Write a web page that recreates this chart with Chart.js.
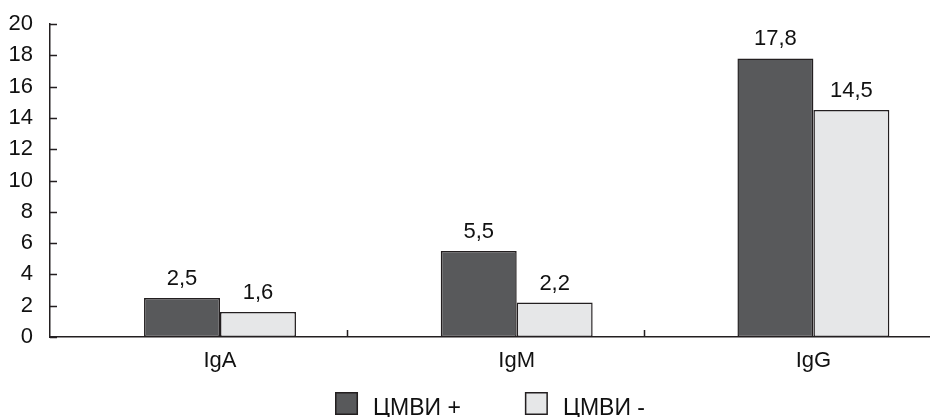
<!DOCTYPE html>
<html>
<head>
<meta charset="utf-8">
<script src="https://cdn.jsdelivr.net/npm/chart.js@4/dist/chart.umd.min.js"></script>
<style>
  html, body { margin: 0; padding: 0; background: #ffffff; }
</style>
</head>
<body>
<canvas id="chart" width="930" height="417"></canvas>
<script>
// Immunoglobulin levels by group
const categories = ['IgA', 'IgM', 'IgG'];
const seriesNames = ['ЦМВИ +', 'ЦМВИ -'];
const cmvPositive = [2.5, 5.5, 17.8];
const cmvNegative = [1.6, 2.2, 14.5];
const yTickStep = 2;
const yMin = 0;
const yMax = 20;

const FONT = '"Liberation Sans", Arial, sans-serif';
const INK = '#111111';
const EDGE = '#231f20';
const seriesColors = ['#58595b', '#e6e7e8'];

const toPoints = vals => vals.map((v, i) => ({ x: i, y: v }));

// Short tick marks drawn inside the plot, plus category dividers on the x axis
const innerTicks = {
  id: 'innerTicks',
  afterDraw(chart, args, opts) {
    const { ctx, chartArea: a, scales: { x, y } } = chart;
    ctx.save();
    ctx.strokeStyle = EDGE;
    ctx.lineWidth = 1.5;
    ctx.beginPath();
    y.ticks.forEach(t => {
      const py = Math.round(y.getPixelForValue(t.value)) + 0.5;
      ctx.moveTo(a.left, py);
      ctx.lineTo(a.left + opts.length, py);
    });
    opts.dividers.forEach(v => {
      const px = Math.round(x.getPixelForValue(v)) + 0.5;
      ctx.moveTo(px, a.bottom);
      ctx.lineTo(px, a.bottom - opts.length);
    });
    ctx.stroke();
    ctx.restore();
  }
};

// Value labels above each bar, decimal comma
const valueLabels = {
  id: 'valueLabels',
  afterDatasetsDraw(chart, args, opts) {
    const { ctx } = chart;
    ctx.save();
    ctx.font = opts.font;
    ctx.fillStyle = INK;
    ctx.textAlign = 'center';
    ctx.textBaseline = 'alphabetic';
    chart.data.datasets.forEach((ds, i) => {
      chart.getDatasetMeta(i).data.forEach((el, j) => {
        const txt = ds.data[j].y.toFixed(1).replace('.', ',');
        ctx.fillText(txt, el.x, el.y - opts.gap);
      });
    });
    ctx.restore();
  }
};

// Legend row centred under the plot
const boxLegend = {
  id: 'boxLegend',
  afterDraw(chart, args, opts) {
    const { ctx, chartArea: a } = chart;
    ctx.save();
    ctx.font = opts.font;
    const items = chart.data.datasets.map(ds => ({
      text: ds.label, fill: ds.backgroundColor, w: ctx.measureText(ds.label).width
    }));
    const total = items.reduce((s, it) => s + opts.box + opts.textGap + it.w, 0) + opts.itemGap * (items.length - 1);
    let cx = (a.left + a.right) / 2 - total / 2;
    const top = opts.top;
    items.forEach(it => {
      ctx.fillStyle = it.fill;
      ctx.fillRect(cx, top, opts.box, opts.box);
      ctx.strokeStyle = EDGE;
      ctx.lineWidth = 1.5;
      ctx.strokeRect(cx + 0.75, top + 0.75, opts.box - 1.5, opts.box - 1.5);
      ctx.fillStyle = INK;
      ctx.textBaseline = 'alphabetic';
      ctx.textAlign = 'left';
      ctx.fillText(it.text, cx + opts.box + opts.textGap, top + opts.box);
      cx += opts.box + opts.textGap + it.w + opts.itemGap;
    });
    ctx.restore();
  }
};

new Chart(document.getElementById('chart'), {
  type: 'bar',
  data: {
    datasets: [
      { label: seriesNames[0], data: toPoints(cmvPositive), backgroundColor: seriesColors[0] },
      { label: seriesNames[1], data: toPoints(cmvNegative), backgroundColor: seriesColors[1] }
    ]
  },
  options: {
    responsive: false,
    animation: false,
    devicePixelRatio: 1,
    layout: { padding: { top: 24, right: 0, bottom: 40, left: 0 } },
    datasets: {
      bar: {
        categoryPercentage: 0.512,
        barPercentage: 1,
        borderColor: EDGE,
        borderWidth: 1.5,
        borderSkipped: false
      }
    },
    scales: {
      x: {
        type: 'linear',
        offset: false,
        bounds: 'data',
        min: -0.573,
        max: 2.393,
        afterBuildTicks: s => { s.ticks = categories.map((_, i) => ({ value: i })); },
        afterFit: s => { s.height = 40; },
        grid: { display: false, offset: false },
        border: { display: true, color: EDGE, width: 1.5 },
        ticks: {
          autoSkip: false,
          maxRotation: 0,
          padding: 3,
          color: INK,
          font: { family: FONT, size: 22 },
          callback: v => categories[v]
        }
      },
      y: {
        min: yMin,
        max: yMax,
        afterFit: s => { s.width = 50; },
        grid: { display: false },
        border: { display: true, color: EDGE, width: 1.5 },
        ticks: {
          stepSize: yTickStep,
          padding: 9,
          color: INK,
          font: { family: FONT, size: 22 }
        }
      }
    },
    plugins: {
      legend: { display: false },
      tooltip: { enabled: false },
      innerTicks: { length: 7, dividers: [0.428, 1.428] },
      valueLabels: { font: '22px ' + FONT, gap: 13 },
      boxLegend: { font: '23px ' + FONT, box: 23, textGap: 15, itemGap: 64, top: 392 }
    }
  },
  plugins: [innerTicks, valueLabels, boxLegend]
});
</script>
</body>
</html>
